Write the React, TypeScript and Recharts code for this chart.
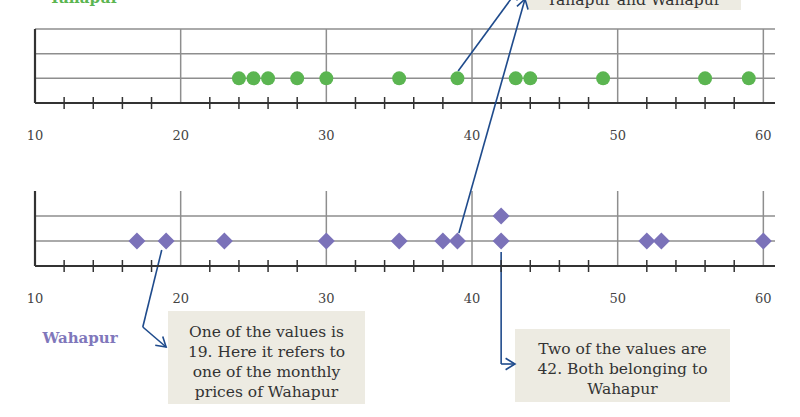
import React from "react";
import { ScatterChart, Scatter, XAxis, YAxis, ReferenceLine } from "recharts";

// monthly prices
const tahapurPrices = [24, 25, 26, 28, 30, 35, 39, 43, 44, 49, 56, 59];
const wahapurPrices = [17, 19, 23, 30, 35, 38, 39, 42, 42, 52, 53, 60];

const majorTicks = [10, 20, 30, 40, 50, 60];
const minorTicks = [12, 14, 16, 18, 22, 24, 26, 28, 32, 34, 36, 38, 42, 44, 46, 48, 52, 54, 56, 58];
const allTicks = [...majorTicks, ...minorTicks].sort((a, b) => a - b);

const tahapurRows = [1, 2, 3];
const wahapurRows = [1, 2];

const SERIF = "'DejaVu Serif', serif";
const GREEN = "#5bb551";
const PURPLE = "#7b72b9";
const GRID = "#8e8e8e";
const AXIS = "#333";
const ARROW = "#1f4b8c";
const BOX = "#edebe2";

// stack repeated values on top of each other, like a dot plot
const stack = (values: number[]) =>
  values.map((v, i) => ({ x: v, y: values.slice(0, i).filter((u) => u === v).length + 1 }));

const AxisTick = (props: any) => {
  const { x, y, payload } = props;
  const v = payload.value;
  if (majorTicks.includes(v)) {
    return (
      <text x={x} y={y + 37} textAnchor="middle" fill="#444" fontSize={13} fontFamily={SERIF}>
        {v}
      </text>
    );
  }
  return <line x1={x} x2={x} y1={y - 6} y2={y + 6} stroke={AXIS} strokeWidth={1.5} />;
};

const Dot = (p: any) => <circle cx={p.cx} cy={p.cy} r={7} fill={GREEN} />;

const Diamond = (p: any) => {
  const s = 8.5;
  return (
    <path
      d={`M${p.cx},${p.cy - s} L${p.cx + s},${p.cy} L${p.cx},${p.cy + s} L${p.cx - s},${p.cy} Z`}
      fill={PURPLE}
    />
  );
};

const arrow = (head: boolean) => (p: any) => {
  const { x1, y1, x2, y2 } = p;
  const a = Math.atan2(y2 - y1, x2 - x1);
  const L = 11;
  const s = 0.55;
  return (
    <g>
      <line x1={x1} y1={y1} x2={x2} y2={y2} stroke={ARROW} strokeWidth={1.6} />
      {head && (
        <path
          d={`M${x2 - L * Math.cos(a - s)},${y2 - L * Math.sin(a - s)} L${x2},${y2} L${
            x2 - L * Math.cos(a + s)
          },${y2 - L * Math.sin(a + s)}`}
          fill="none"
          stroke={ARROW}
          strokeWidth={1.6}
        />
      )}
    </g>
  );
};

const seg = (a: [number, number], b: [number, number], head: boolean, key: string) => (
  <ReferenceLine
    key={key}
    segment={[
      { x: a[0], y: a[1] },
      { x: b[0], y: b[1] },
    ]}
    ifOverflow="visible"
    shape={arrow(head)}
  />
);

const Panel = ({
  top,
  bottom,
  rows,
  points,
  shape,
  extras,
}: {
  top: number;
  bottom: number;
  rows: number[];
  points: { x: number; y: number }[];
  shape: any;
  extras: React.ReactNode;
}) => (
  <div style={{ position: "absolute", left: 0, top: 0 }}>
    <ScatterChart
      width={800}
      height={417}
      margin={{ top, right: 25, bottom: 417 - bottom - 30, left: 35 }}
    >
      <XAxis
        type="number"
        dataKey="x"
        domain={[10, 60.8]}
        ticks={allTicks}
        interval={0}
        tick={<AxisTick />}
        tickLine={false}
        tickSize={0}
        tickMargin={0}
        height={30}
        axisLine={{ stroke: AXIS, strokeWidth: 2 }}
        allowDataOverflow
      />
      <YAxis type="number" dataKey="y" domain={[0, 3]} hide />
      {majorTicks.slice(1).map((v) => (
        <ReferenceLine key={"v" + v} x={v} stroke={GRID} strokeWidth={1.5} ifOverflow="visible" />
      ))}
      {rows.map((r) => (
        <ReferenceLine key={"h" + r} y={r} stroke={GRID} strokeWidth={1.5} ifOverflow="visible" />
      ))}
      <ReferenceLine x={majorTicks[0]} stroke={AXIS} strokeWidth={2.2} ifOverflow="visible" />
      <Scatter data={points} shape={shape} isAnimationActive={false} />
      {extras}
    </ScatterChart>
  </div>
);

const boxStyle: React.CSSProperties = {
  position: "absolute",
  background: BOX,
  color: "#333",
  fontFamily: SERIF,
  fontSize: 15.5,
  lineHeight: "20px",
  textAlign: "center",
  boxSizing: "border-box",
};

export default function App() {
  return (
    <div
      style={{
        position: "absolute",
        left: 0,
        top: 0,
        width: 800,
        height: 417,
        overflow: "hidden",
        background: "#fff",
      }}
    >
      {/* top note is cut off by the page edge in the original */}
      <div
        style={{
          ...boxStyle,
          left: 527,
          top: -30,
          width: 214,
          height: 40,
          display: "flex",
          flexDirection: "column",
          justifyContent: "flex-end",
          paddingBottom: 0,
        }}
      >
        <div>Tahapur and Wahapur</div>
      </div>
      <div style={{ ...boxStyle, left: 168, top: 311, width: 197, height: 93, paddingTop: 11 }}>
        One of the values is
        <br />
        19. Here it refers to
        <br />
        one of the monthly
        <br />
        prices of Wahapur
      </div>
      <div style={{ ...boxStyle, left: 515, top: 329, width: 215, height: 73, paddingTop: 10 }}>
        Two of the values are
        <br />
        42. Both belonging to
        <br />
        Wahapur
      </div>

      <Panel
        top={29}
        bottom={103}
        rows={tahapurRows}
        points={stack(tahapurPrices)}
        shape={Dot}
        extras={[seg([39.05, 1.3], [43.15, 4.6], true, "t1")]}
      />
      <Panel
        top={191}
        bottom={266}
        rows={wahapurRows}
        points={stack(wahapurPrices)}
        shape={Diamond}
        extras={[
          seg([39.1, 1.32], [43.64, 10.68], true, "w1"),
          seg([18.7, 0.64], [17.4, -2.44], false, "w2"),
          seg([17.4, -2.44], [19.0, -3.24], true, "w3"),
          seg([42, 0.56], [42, -3.92], false, "w4"),
          seg([42, -3.92], [42.95, -3.92], true, "w5"),
        ]}
      />

      <svg width={800} height={417} style={{ position: "absolute", left: 0, top: 0, pointerEvents: "none" }}>
        <text x={84} y={2.5} textAnchor="middle" fill={GREEN} fontWeight="bold" fontSize={15} fontFamily={SERIF}>
          Tahapur
        </text>
        <text x={80} y={343} textAnchor="middle" fill="#8077bb" fontWeight="bold" fontSize={15} fontFamily={SERIF}>
          Wahapur
        </text>
      </svg>
    </div>
  );
}
